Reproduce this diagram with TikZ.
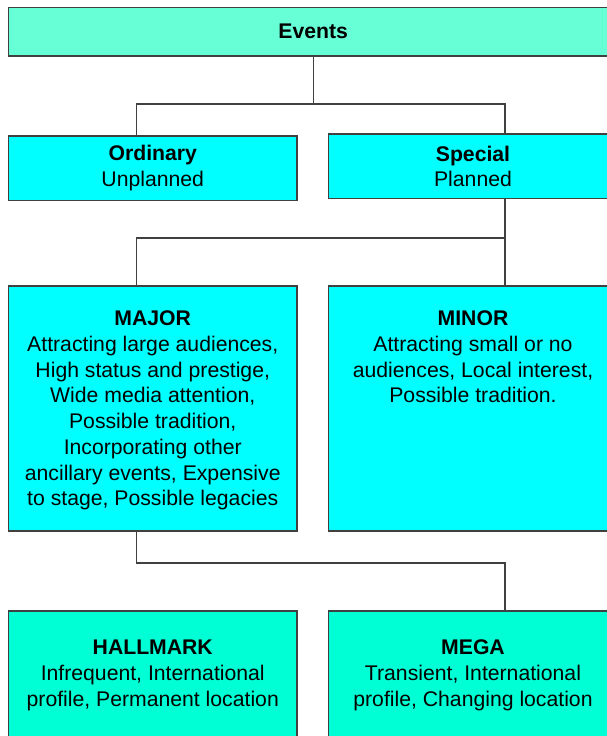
\documentclass[tikz,border=0pt]{standalone}
\usepackage{fontspec}
\setmainfont{Liberation Sans}
\usetikzlibrary{positioning}

\definecolor{eventsgreen}{RGB}{102,255,214}
\definecolor{boxcyan}{RGB}{0,255,255}
\definecolor{boxteal}{RGB}{0,255,212}
\definecolor{linegray}{RGB}{64,64,64}

\begin{document}
\begin{tikzpicture}[x=0.75pt, y=-0.75pt,
  font=\fontsize{15.9}{19.3}\selectfont,
  box/.style={draw=linegray, line width=1.1pt, rectangle, align=center,
    inner sep=0pt, outer sep=0pt, minimum width=216.4pt},
  topbox/.style={box, anchor=north, minimum height=183.75pt},
  link/.style={draw=linegray, line width=0.8pt}]
\clip (0,0) rectangle (607,736);

\node[box, fill=eventsgreen, minimum width=457.1pt, minimum height=36.5pt]
  at (313.25,31.65) (events) {\textbf{Events}};
\node[box, fill=boxcyan, minimum height=48.5pt] at (152.75,168.35) (ordinary)
  {\textbf{Ordinary}\\Unplanned};
\node[box, fill=boxcyan, minimum height=48.5pt] at (473,166.35) (special)
  {\textbf{Special}\\Planned};

\node[topbox, fill=boxcyan, text height=164.8pt, text depth=18.95pt]
  at (152.75,286) (major)
  {\textbf{MAJOR}\\Attracting large audiences,\\High status and prestige,\\
   Wide media attention,\\Possible tradition,\\Incorporating other\\
   ancillary events, Expensive\\to stage, Possible legacies};
\node[topbox, fill=boxcyan, text height=87.6pt, text depth=96.15pt]
  at (473,286) (minor)
  {\textbf{MINOR}\\Attracting small or no\\audiences, Local interest,\\
   Possible tradition.};

\node[box, fill=boxteal, minimum height=96.75pt] at (152.75,675.5) (hallmark)
  {\textbf{HALLMARK}\\Infrequent, International\\profile, Permanent location};
\node[box, fill=boxteal, minimum height=96.75pt] at (473,675.5) (mega)
  {\textbf{MEGA}\\Transient, International\\profile, Changing location};

% bus points
\coordinate (busA) at (136.7,104);
\coordinate (busB) at (505,238);
\coordinate (busC) at (136.7,563);

\draw[link] (events.south) -- (events.south |- busA);
\draw[link] (busA |- ordinary.north) -- (busA) -- (busA -| busB)
  -- (busB |- special.north);
\draw[link] (busB |- special.south) -- (busB |- minor.north);
\draw[link] (busB) -- (busB -| busA) -- (busA |- major.north);
\draw[link] (busC |- major.south) -- (busC) -- (busC -| busB)
  -- (busB |- mega.north);
\end{tikzpicture}
\end{document}
